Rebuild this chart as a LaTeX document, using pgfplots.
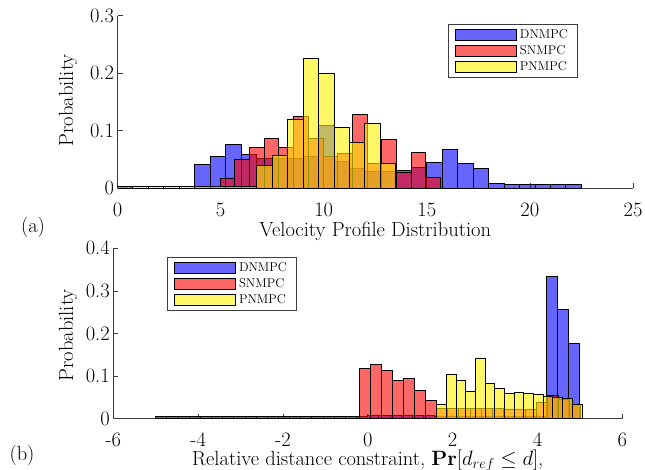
\documentclass[border=0pt]{standalone}
\usepackage{pgfplots}
\pgfplotsset{compat=1.18}
\definecolor{axgray}{RGB}{60,60,60}
\pgfplotsset{
  legimg/.style={legend image code/.code={\draw[##1] (0pt,-5.3pt) rectangle (61pt,5.3pt);}},
  hb/.style={ybar interval, fill=blue, fill opacity=0.6, draw=black, line width=1pt, legimg},
  hr/.style={ybar interval, fill=red, fill opacity=0.6, draw=black, line width=1pt, legimg},
  hy/.style={ybar interval, fill=yellow, fill opacity=0.6, draw=black, line width=1pt, legimg},
  myaxis/.style={
    scale only axis,
    axis x line*=bottom, axis y line*=left,
    axis line style={-, axgray, line width=0.8pt},
    tick align=inside,
    major tick length=5pt,
    tick style={axgray, line width=0.8pt},
    every tick label/.append style={font=\fontsize{20.5}{24}\selectfont},
    /pgf/number format/assume math mode=true,
    legend cell align=left,
    legend style={draw=axgray, line width=0.8pt, fill=white,
      font=\fontsize{12.8}{14}\selectfont, row sep=0.3pt,
      inner xsep=7pt, inner ysep=2.5pt, nodes={inner sep=2.6pt}},
  },
}
\begin{document}
\begin{tikzpicture}
\useasboundingbox (0,0) rectangle (645pt,-470pt);
% ---------------- (a) ----------------
\begin{axis}[myaxis,
  at={(117.5pt,-188.3pt)}, anchor=south west,
  width=515.5pt, height=172.6pt,
  xmin=0, xmax=25, ymin=0, ymax=0.3,
  xtick={0,5,10,15,20,25}, ytick={0,0.1,0.2,0.3},
  xticklabel style={inner sep=1pt, yshift=-13.3pt},
  every axis x label/.style={at={(axis description cs:0.5,-0.25)}, anchor=center, inner sep=1pt, font=\fontsize{20.5}{24}\selectfont},
  every axis y label/.style={at={(axis description cs:-0.096,0.51)}, anchor=center, rotate=90, font=\fontsize{20.5}{24}\selectfont},
  xlabel={Velocity Profile Distribution},
  ylabel={Probability},
  legend style={at={(axis description cs:0.641,0.952)}, anchor=north west},
]
\addplot[hb] coordinates {(3.75,0.042) (4.5,0.056) (5.25,0.076) (6.0,0.059) (6.75,0.052) (7.5,0.052) (8.25,0.052) (9.0,0.055) (9.75,0.110) (10.5,0.046) (11.25,0.035) (12.0,0.029) (12.75,0.029) (13.5,0.031) (14.25,0.037) (15.0,0.045) (15.75,0.068) (16.5,0.043) (17.25,0.034) (18.0,0.009) (18.75,0.007) (19.5,0.006) (20.25,0.006) (21.0,0.007) (21.75,0.007) (22.5,0)};
\addlegendentry{DNMPC}
\addplot[hr, forget plot] coordinates {(0,0.003) (0.712,0)};
\addplot[hr] coordinates {(4.984,0.017) (5.696,0.050) (6.408,0.071) (7.120,0.087) (7.832,0.071) (8.544,0.125) (9.256,0.086) (9.968,0.055) (10.680,0.061) (11.392,0.129) (12.104,0.043) (12.816,0.084) (13.528,0.028) (14.240,0.062) (14.952,0.019) (15.664,0)};
\addlegendentry{SNMPC}
\addplot[hy] coordinates {(0.75,0.003) (1.5,0.003) (2.25,0.003) (3.0,0.003) (3.75,0.003) (4.5,0.003) (5.25,0.003) (6.0,0.003) (6.75,0.039) (7.5,0.057) (8.25,0.119) (9.0,0.225) (9.75,0.199) (10.5,0.105) (11.25,0.080) (12.0,0.112) (12.75,0.043) (13.5,0)};
\addlegendentry{PNMPC}
\end{axis}
% ---------------- (b) ----------------
\begin{axis}[myaxis,
  at={(113.3pt,-418.7pt)}, anchor=south west,
  width=509pt, height=170.4pt,
  xmin=-6, xmax=6, ymin=0, ymax=0.4,
  xtick={-6,-4,-2,0,2,4,6}, ytick={0,0.1,0.2,0.3,0.4},
  xticklabel style={inner sep=1pt, yshift=-13.3pt},
  every axis x label/.style={at={(axis description cs:0.5,-0.247)}, anchor=center, inner sep=1pt, font=\fontsize{20.5}{24}\selectfont},
  every axis y label/.style={at={(axis description cs:-0.089,0.49)}, anchor=center, rotate=90, font=\fontsize{20.5}{24}\selectfont},
  xlabel={Relative distance constraint, $\mathbf{Pr}[d_{ref}\leq d]$,},
  ylabel={Probability},
  legend style={at={(axis description cs:0.1055,0.949)}, anchor=north west},
]
\addplot[hb] coordinates {(-5.0000,0.0063) (-4.7368,0.0063) (-4.4737,0.0063) (-4.2105,0.0063) (-3.9474,0.0063) (-3.6842,0.0063) (-3.4211,0.0063) (-3.1579,0.0063) (-2.8947,0.0063) (-2.6316,0.0063) (-2.3684,0.0063) (-2.1053,0.0063) (-1.8421,0.0063) (-1.5789,0.0063) (-1.3158,0.0063) (-1.0526,0.0063) (-0.7895,0.0063) (-0.5263,0.0063) (-0.2632,0.0063) (0.0000,0.008) (0.2632,0.008) (0.5263,0.008) (0.7895,0.008) (1.0526,0.008) (1.3158,0.008) (1.5789,0.0063) (1.8421,0.0063) (2.1053,0.0063) (2.3684,0.0063) (2.6316,0.0063) (2.8947,0.0063) (3.1579,0.0063) (3.4211,0.0063) (3.6842,0.0063) (3.9474,0.0063) (4.2105,0.333) (4.4737,0.256) (4.7368,0.177) (5.0000,0)};
\addlegendentry{DNMPC}
\addplot[hr] coordinates {(-0.19,0.117) (0.07,0.128) (0.33,0.114) (0.59,0.089) (0.85,0.094) (1.11,0.066) (1.37,0.042) (1.63,0.025) (1.89,0.025) (2.15,0.024) (2.41,0.024) (2.67,0.023) (2.93,0.023) (3.19,0.022) (3.45,0.022) (3.71,0.021) (3.97,0.038) (4.23,0.054) (4.49,0.045) (4.75,0.033) (5.01,0)};
\addlegendentry{SNMPC}
\addplot[hy] coordinates {(1.624,0.034) (1.853,0.103) (2.081,0.090) (2.310,0.063) (2.538,0.142) (2.767,0.083) (2.995,0.070) (3.224,0.060) (3.452,0.062) (3.681,0.060) (3.909,0.056) (4.138,0.052) (4.366,0.049) (4.595,0.047) (4.823,0.034) (5.052,0)};
\addlegendentry{PNMPC}
\end{axis}
\node[font=\fontsize{20.5}{24}\selectfont] at (33pt,-227pt) {(a)};
\node[font=\fontsize{20.5}{24}\selectfont] at (22pt,-455pt) {(b)};
\end{tikzpicture}
\end{document}
